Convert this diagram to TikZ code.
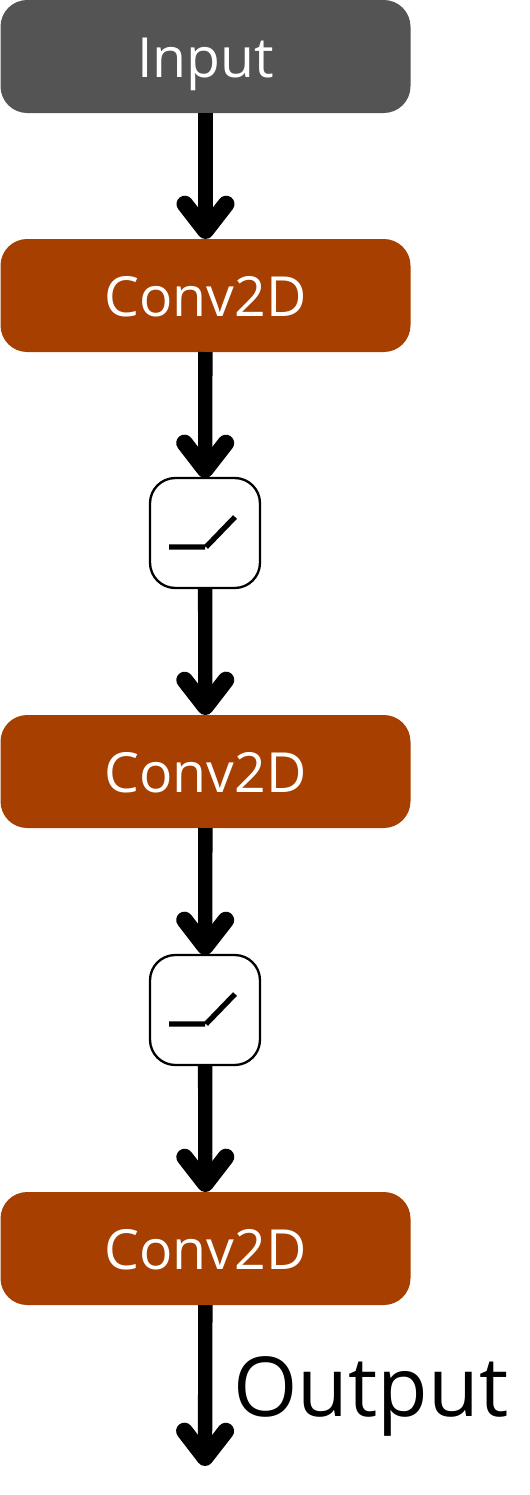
\documentclass[tikz,border=0pt]{standalone}
\usepackage{fontspec}
\setmainfont{Open Sans}
\usetikzlibrary{arrows.meta}
\definecolor{inputgray}{HTML}{545454}
\definecolor{convbrown}{HTML}{A63F00}
\tikzset{every picture/.style={line width=0.75pt},
  inputbox/.style={fill=inputgray,text=white,rounded corners=20pt,minimum width=307.5pt,minimum height=84.75pt,inner sep=0pt,outer sep=0pt,text height=31.5pt,text depth=0pt,font=\fontsize{41.5}{45}\selectfont},
  convbox/.style={inputbox,fill=convbrown},
  actbox/.style={draw=black,fill=white,line width=1.75pt,rounded corners=19pt,minimum width=82.5pt,minimum height=82.5pt,inner sep=0pt,outer sep=0pt},
  flow/.style={line width=10.75pt,-{Straight Barb[round,length=20pt,width=31pt,line width=12.5pt]}},
  relu/.style={line width=4pt}}

\begin{document}
\begin{tikzpicture}[x=0.75pt,y=0.75pt,yscale=-1,xscale=1]
\useasboundingbox (0,0) rectangle (529,1495);

% Boxes
\node [inputbox] (input) at (205.5,56.5) {Input};
\node [convbox] (conv1) at (205.5,295.5) {Conv2D};
\node [actbox] (act1) at (205,533) {};
\node [convbox] (conv2) at (205.5,771.5) {Conv2D};
\node [actbox] (act2) at (205,1010) {};
\node [convbox] (conv3) at (205.5,1248.5) {Conv2D};
\coordinate (out) at (205,1466);

% Text Node
\node [anchor=base west,inner sep=0pt,font=\fontsize{62}{66}\selectfont] (outlabel) at (233,1416) {Output};

% Connectors
\draw [flow] (input) -- (conv1);
\draw [flow] (conv1) -- (act1);
\draw [flow] (act1) -- (conv2);
\draw [flow] (conv2) -- (act2);
\draw [flow] (act2) -- (conv3);
\draw [flow] (conv3) -- (out);

% Activation curves
\foreach \a in {act1,act2}
  \draw [relu] ([shift={(-36,14)}]\a.center) -- ([shift={(0,14)}]\a.center) ([shift={(1,14)}]\a.center) -- ([shift={(30,-16)}]\a.center);

\end{tikzpicture}
\end{document}
